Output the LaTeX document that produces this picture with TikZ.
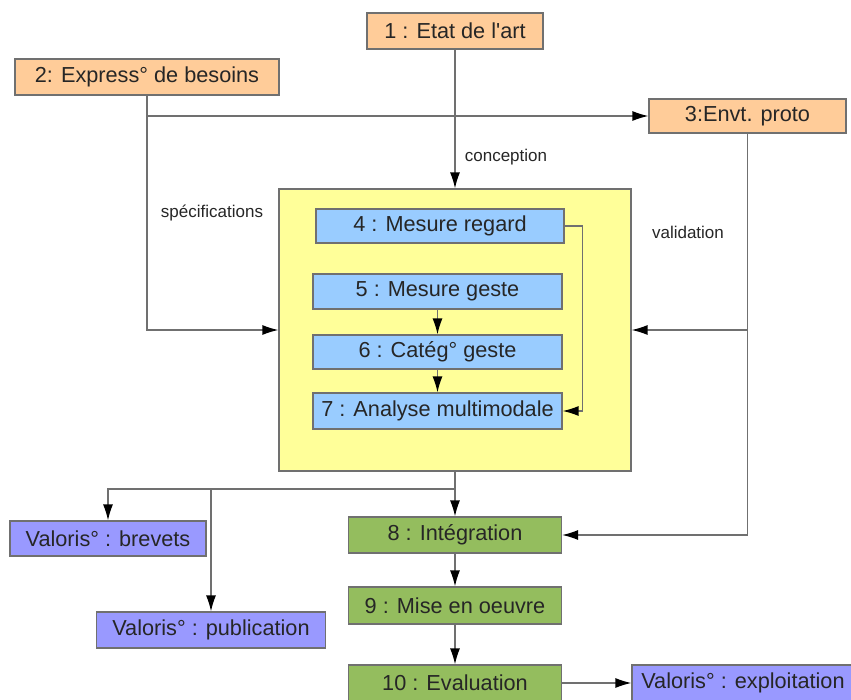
\documentclass[tikz,border=0pt]{standalone}
\usepackage{fontspec}
\setmainfont{Liberation Sans}
\usetikzlibrary{arrows.meta}
\definecolor{orangebox}{HTML}{FFCC99}
\definecolor{bluebox}{HTML}{99CCFF}
\definecolor{yellowbox}{HTML}{FFFF99}
\definecolor{greenbox}{HTML}{94BD5E}
\definecolor{violetbox}{HTML}{9999FF}
\definecolor{edgegray}{HTML}{707070}
\tikzset{
  box/.style={draw=edgegray, line width=1.2pt, inner sep=0pt,
    font=\fontsize{21.7}{25}\selectfont, text=black!85},
  orangenode/.style={box, fill=orangebox},
  bluenode/.style={box, fill=bluebox},
  greennode/.style={box, fill=greenbox},
  violetnode/.style={box, fill=violetbox},
  link/.style={draw=edgegray, line width=1.3pt},
  arrowlink/.style={link, -{Latex[length=16pt,width=10pt,fill=black,color=black]}},
  lbl/.style={font=\fontsize{17}{20}\selectfont, text=black!85, inner sep=0pt}
}
\begin{document}
\begin{tikzpicture}[x=1pt,y=-1pt]
\useasboundingbox (0,0) rectangle (851,700);
\fill[white] (0,0) rectangle (851,700);

% upstream inputs
\node[orangenode, minimum width=176pt, minimum height=36pt] (n1) at (455,31) {1 : Etat de l\textquotesingle art};
\node[orangenode, minimum width=264pt, minimum height=36pt] (n2) at (147,77) {2: Express° de besoins};
\node[orangenode, minimum width=197pt, minimum height=34pt] (n3) at (747.5,116) {3:Envt. proto};

% central block with measurement and analysis steps
\node[box, fill=yellowbox, minimum width=352pt, minimum height=282pt] (core) at (455,330) {};
\node[bluenode, minimum width=248pt, minimum height=34pt] (n4) at (440,226) {4 : Mesure regard};
\node[bluenode, minimum width=249pt, minimum height=35pt] (n5) at (437.5,291.5) {5 : Mesure geste};
\node[bluenode, minimum width=249pt, minimum height=34pt] (n6) at (437.5,352) {6 : Catég° geste};
\node[bluenode, minimum width=249pt, minimum height=36pt] (n7) at (437.5,411) {7 : Analyse multimodale};

% downstream chain
\node[greennode, minimum width=213pt, minimum height=36pt] (n8) at (455,535) {8 : Intégration};
\node[greennode, minimum width=213pt, minimum height=37pt] (n9) at (455,605.5) {9 : Mise en oeuvre};
\node[greennode, minimum width=213pt, minimum height=36pt] (n10) at (455,683) {10 : Evaluation};

% valorisation outputs
\node[violetnode, minimum width=196pt, minimum height=35pt] (brev) at (108,538.5) {Valoris° : brevets};
\node[violetnode, minimum width=229pt, minimum height=36pt] (pub) at (211,630) {Valoris° : publication};
\node[violetnode, minimum width=222pt, minimum height=36pt] (expl) at (743,683) {Valoris° : exploitation};

% edge labels
\node[lbl] (lconc) at (506,157) {conception};
\node[lbl] (lspec) at (212,213) {spécifications};
\node[lbl] (lval) at (688,232) {validation};

% connectors
\draw[arrowlink] (n1.south) -- (core.north);
\draw[arrowlink] (n2.south) |- (core.west);
\draw[arrowlink] (n2.south |- n3.west) -- (n3.west);
\draw[arrowlink] (n3.south) |- (core.east);
\draw[arrowlink] (n3.south) |- (n8.east);

\draw[arrowlink] (n4.east) -- ++(18,0) |- (n7.east);
\draw[arrowlink] (n5.south) -- (n6.north);
\draw[arrowlink] (n6.south) -- (n7.north);

\coordinate (split) at (455,489);
\draw[arrowlink] (core.south) -- (n8.north);
\draw[arrowlink] (split) -| (brev.north);
\draw[arrowlink] (pub.north |- split) -- (pub.north);

\draw[arrowlink] (n8.south) -- (n9.north);
\draw[arrowlink] (n9.south) -- (n10.north);
\draw[arrowlink] (n10.east) -- (expl.west);
\end{tikzpicture}
\end{document}
